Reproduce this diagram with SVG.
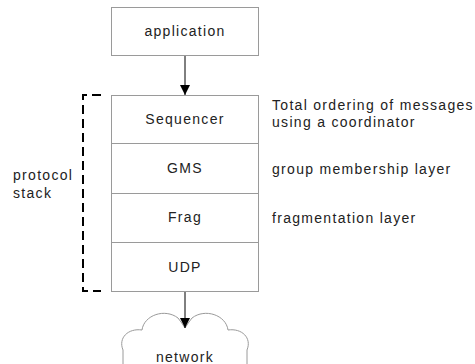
<svg xmlns="http://www.w3.org/2000/svg" width="475" height="364" viewBox="0 0 475 364">
<defs>
<style>
.box{fill:#fff;stroke:#9a9a9a;stroke-width:1}
.lbl{font-family:"Liberation Sans",Arial,sans-serif;font-size:14px;fill:#222;letter-spacing:1.3px}
.c{text-anchor:middle}
.edge{stroke:#000;stroke-width:1;fill:none}
.br{stroke:#000;stroke-width:2;fill:none;stroke-dasharray:9,5}
</style>
<marker id="ah" viewBox="0 0 10 10" refX="10" refY="5" markerWidth="10" markerHeight="10" markerUnits="userSpaceOnUse" orient="auto">
<path d="M0,0 L10,5 L0,10 z" fill="#000"/>
</marker>
</defs>
<rect width="475" height="364" fill="#fff"/>
<g id="application">
<rect class="box" x="111.5" y="7.5" width="147" height="48"/>
<text class="lbl c" x="185" y="36">application</text>
</g>
<g id="stack">
<rect class="box" x="111.5" y="95.5" width="147" height="196"/>
<line class="box" x1="111.5" y1="143.5" x2="258.5" y2="143.5"/>
<line class="box" x1="111.5" y1="193.5" x2="258.5" y2="193.5"/>
<line class="box" x1="111.5" y1="242.5" x2="258.5" y2="242.5"/>
</g>
<g id="sequencer"><text class="lbl c" x="185" y="124">Sequencer</text></g>
<g id="gms"><text class="lbl c" x="185" y="173">GMS</text></g>
<g id="frag"><text class="lbl c" x="185" y="222">Frag</text></g>
<g id="udp"><text class="lbl c" x="185" y="272">UDP</text></g>
<g id="notes">
<text class="lbl" x="272" y="110">Total ordering of messages</text>
<text class="lbl" x="272" y="127">using a coordinator</text>
<text class="lbl" x="272" y="174">group membership layer</text>
<text class="lbl" x="272" y="223">fragmentation layer</text>
</g>
<g id="protocol-stack">
<text class="lbl" x="13" y="180">protocol</text>
<text class="lbl" x="13" y="198">stack</text>
<path class="br" d="M101,95 L83,95 L83,291 L101,291"/>
</g>
<g id="network">
<path class="box" d="M123,364 L123,350 C118,338 128,328 142,330 C144,315 165,308 178,318 Q182,323 185,328 Q188,323 192,318 C205,308 226,315 228,330 C242,328 252,338 247,350 L247,364"/>
<text class="lbl c" x="185" y="362">network</text>
</g>
<g id="connectors">
<line class="edge" x1="185" y1="56" x2="185" y2="95" marker-end="url(#ah)"/>
<line class="edge" x1="185" y1="292" x2="185" y2="328" marker-end="url(#ah)"/>
</g>
</svg>
